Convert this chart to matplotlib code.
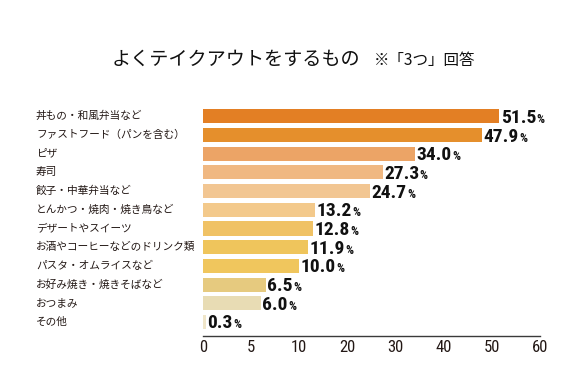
import numpy as np
import matplotlib
matplotlib.use("Agg")
import matplotlib.pyplot as plt
from matplotlib import font_manager
from matplotlib.transforms import blended_transform_factory, IdentityTransform

categories = ["丼もの・和風弁当など", "ファストフード（パンを含む）", "ピザ", "寿司",
              "餃子・中華弁当など", "とんかつ・焼肉・焼き鳥など", "デザートやスイーツ",
              "お酒やコーヒーなどのドリンク類", "パスタ・オムライスなど",
              "お好み焼き・焼きそばなど", "おつまみ", "その他"]
values = [51.5, 47.9, 34.0, 27.3, 24.7, 13.2, 12.8, 11.9, 10.0, 6.5, 6.0, 0.3]
tick_values = [0, 5, 10, 20, 30, 40, 50, 60]
title = "よくテイクアウトをするもの"
subtitle = "※「3つ」回答"

colors = ["#E37F24", "#E58F2C", "#ECA466", "#F0B882", "#F2C692", "#F3C98B",
          "#F0C265", "#EFC55C", "#F0C65D", "#E6CA7F", "#E8DCB4", "#EFE5C8"]

names = {f.name for f in font_manager.fontManager.ttflist}


def pick(cands):
    for c in cands:
        if c in names:
            return c
    return "DejaVu Sans"


tick_font = pick(["Roboto Condensed", "Liberation Sans Narrow", "Open Sans Condensed", "Roboto"])
val_font = tick_font
jp = ["Noto Sans CJK JP", "DejaVu Sans"]
txtc = "#231815"

W, H = 585, 387
fig = plt.figure(figsize=(W / 100, H / 100), dpi=100)
fig.patch.set_facecolor("white")

ax_left, ax_right = 203, 540
ax_top, ax_bot = 102.3, 335.7
ax = fig.add_axes([ax_left / W, 1 - ax_bot / H, (ax_right - ax_left) / W, (ax_bot - ax_top) / H])


def fwd(x):
    x = np.asarray(x, float)
    return np.where(x <= 10, x / 5.0, 2 + (x - 10) / 10.0)


def inv(u):
    u = np.asarray(u, float)
    return np.where(u <= 2, u * 5.0, 10 + (u - 2) * 10.0)


ax.set_xscale("function", functions=(fwd, inv))
y = np.arange(len(categories))
ax.barh(y, values, height=0.75, color=colors, left=0)
ax.set_xlim(0, 60)
ax.set_ylim(11.733, -0.75)

ax.set_yticks([])
ax.set_xticks(tick_values)
ax.set_xticklabels([str(t) for t in tick_values], fontfamily=tick_font, fontsize=12, color=txtc)
ax.tick_params(axis="x", length=0, pad=3.0)
for s in ["top", "right", "left"]:
    ax.spines[s].set_visible(False)
ax.spines["bottom"].set_color("#3a3a3a")
ax.spines["bottom"].set_linewidth(1.0)
ax.minorticks_off()

lbl_tr = blended_transform_factory(fig.transFigure, ax.transData)
for i, c in enumerate(categories):
    ax.text(36 / W, i, c, transform=lbl_tr, ha="left", va="center",
            fontsize=7.7, family=jp, color=txtc)

num_texts = []
for i, v in enumerate(values):
    t = ax.annotate(f"{v:.1f}", xy=(v, i), xytext=(1.5, -6.5), textcoords="offset pixels",
                    ha="left", va="baseline", fontsize=14, fontweight="bold",
                    family=val_font, color="#111111")
    num_texts.append(t)

fig.text(112 / W, 1 - 59 / H, title, ha="left", va="center", fontsize=13.8, family=jp, color="#111111")
fig.text(374 / W, 1 - 60 / H, subtitle, ha="left", va="center", fontsize=11.2, family=jp, color="#111111")

fig.canvas.draw()
r = fig.canvas.get_renderer()
for i, (t, v) in enumerate(zip(num_texts, values)):
    bb = t.get_window_extent(r)
    cy = ax.transData.transform((v, i))[1]
    fig.text(bb.x1 + 0.5, cy - 6.5, "%", transform=IdentityTransform(), ha="left", va="baseline",
             fontsize=9, fontweight="bold", family=val_font, color="#111111")

fig.savefig("out.png", dpi=100, facecolor="white")
